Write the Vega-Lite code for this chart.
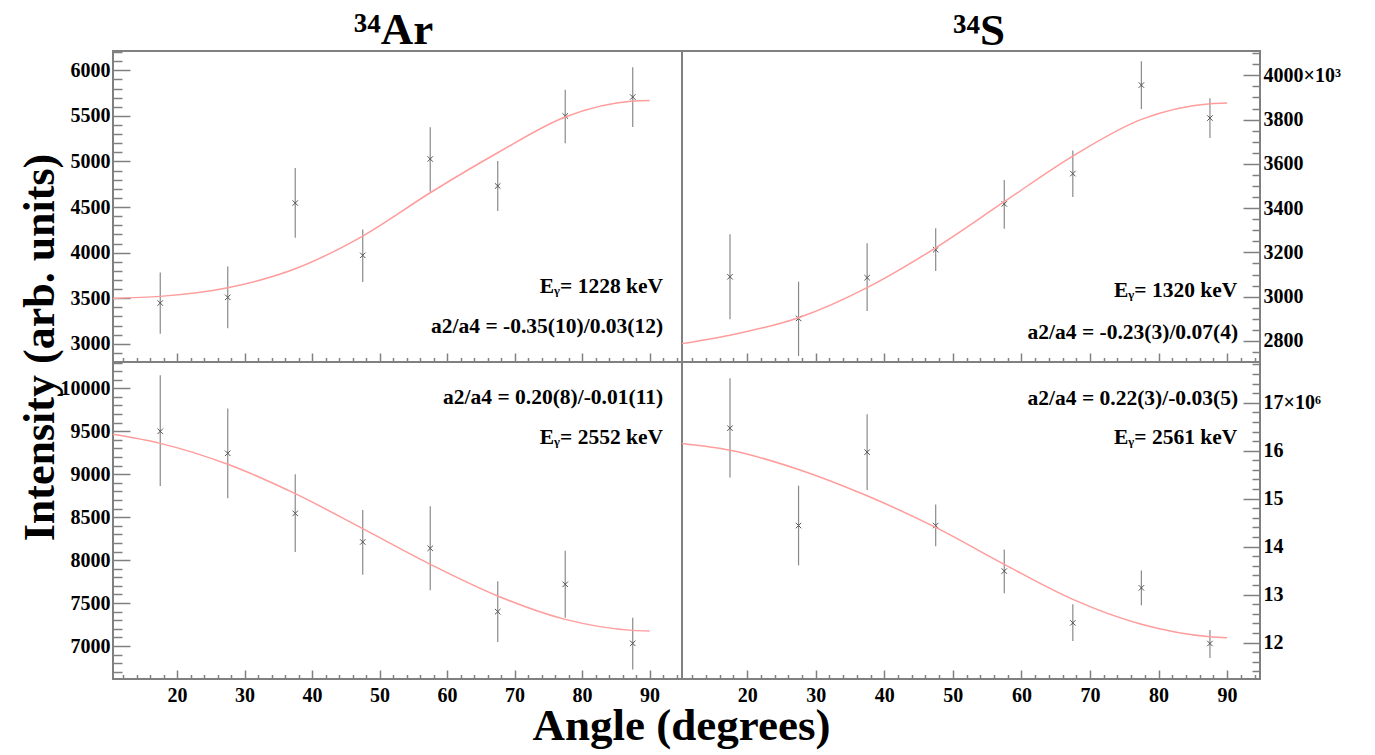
{
  "$schema": "https://vega.github.io/schema/vega-lite/v6.json",
  "background": "white",
  "padding": {"left": 17, "top": 7, "right": 5, "bottom": 5},
  "columns": 2,
  "spacing": 0,
  "bounds": "flush",
  "align": "each",
  "config": {
    "view": {"stroke": "#808080", "strokeWidth": 2},
    "font": "Liberation Serif",
    "axis": {
      "grid": false,
      "domain": false,
      "tickColor": "#808080",
      "tickWidth": 1.5,
      "tickCount": 500,
      "labelFont": "Liberation Serif",
      "labelFontWeight": "bold",
      "labelFontSize": 20,
      "labelColor": "black",
      "labelOverlap": false,
      "labelFlush": false,
      "labelBound": false,
      "titleFont": "Liberation Serif",
      "titleFontWeight": "bold",
      "titleColor": "black"
    },
    "title": {"frame": "group"}
  },
  "datasets": {
    "tl_pts": [
      {"angle": 17.5, "value": 3447, "lo": 3110, "hi": 3783},
      {"angle": 27.5, "value": 3509, "lo": 3169, "hi": 3849},
      {"angle": 37.5, "value": 4544, "lo": 4163, "hi": 4928},
      {"angle": 47.5, "value": 3970, "lo": 3677, "hi": 4255},
      {"angle": 57.5, "value": 5027, "lo": 4668, "hi": 5375},
      {"angle": 67.5, "value": 4731, "lo": 4456, "hi": 5005},
      {"angle": 77.5, "value": 5499, "lo": 5199, "hi": 5787},
      {"angle": 87.5, "value": 5707, "lo": 5378, "hi": 6033}
    ],
    "tl_fit": [
      {"angle": 10.5, "value": 3498}, {"angle": 17.5, "value": 3520}, {"angle": 27.5, "value": 3615},
      {"angle": 37.5, "value": 3823}, {"angle": 47.5, "value": 4182}, {"angle": 57.5, "value": 4657},
      {"angle": 67.5, "value": 5096}, {"angle": 77.5, "value": 5488}, {"angle": 87.5, "value": 5663},
      {"angle": 90, "value": 5670}
    ],
    "tr_pts": [
      {"angle": 17.5, "value": 3090, "lo": 2898, "hi": 3282},
      {"angle": 27.5, "value": 2902, "lo": 2732, "hi": 3068},
      {"angle": 37.5, "value": 3086, "lo": 2935, "hi": 3241},
      {"angle": 47.5, "value": 3212, "lo": 3116, "hi": 3309},
      {"angle": 57.5, "value": 3419, "lo": 3307, "hi": 3527},
      {"angle": 67.5, "value": 3556, "lo": 3450, "hi": 3661},
      {"angle": 77.5, "value": 3956, "lo": 3848, "hi": 4064},
      {"angle": 87.5, "value": 3807, "lo": 3717, "hi": 3896}
    ],
    "tr_fit": [
      {"angle": 10.5, "value": 2788}, {"angle": 17.5, "value": 2826}, {"angle": 27.5, "value": 2905},
      {"angle": 37.5, "value": 3041}, {"angle": 47.5, "value": 3221}, {"angle": 57.5, "value": 3429},
      {"angle": 67.5, "value": 3635}, {"angle": 77.5, "value": 3801}, {"angle": 87.5, "value": 3872},
      {"angle": 90, "value": 3875}
    ],
    "bl_pts": [
      {"angle": 17.5, "value": 9499, "lo": 8862, "hi": 10151},
      {"angle": 27.5, "value": 9243, "lo": 8719, "hi": 9766},
      {"angle": 37.5, "value": 8544, "lo": 8094, "hi": 8998},
      {"angle": 47.5, "value": 8211, "lo": 7830, "hi": 8583},
      {"angle": 57.5, "value": 8137, "lo": 7648, "hi": 8626},
      {"angle": 67.5, "value": 7400, "lo": 7047, "hi": 7753},
      {"angle": 77.5, "value": 7718, "lo": 7330, "hi": 8110},
      {"angle": 87.5, "value": 7031, "lo": 6728, "hi": 7330}
    ],
    "bl_fit": [
      {"angle": 10.5, "value": 9464}, {"angle": 17.5, "value": 9359}, {"angle": 27.5, "value": 9115},
      {"angle": 37.5, "value": 8773}, {"angle": 47.5, "value": 8366}, {"angle": 57.5, "value": 7951},
      {"angle": 67.5, "value": 7582}, {"angle": 77.5, "value": 7310}, {"angle": 87.5, "value": 7182},
      {"angle": 90, "value": 7175}
    ],
    "br_pts": [
      {"angle": 17.5, "value": 16.47, "lo": 15.44, "hi": 17.51},
      {"angle": 27.5, "value": 14.44, "lo": 13.61, "hi": 15.27},
      {"angle": 37.5, "value": 15.97, "lo": 15.18, "hi": 16.76},
      {"angle": 47.5, "value": 14.44, "lo": 14.01, "hi": 14.88},
      {"angle": 57.5, "value": 13.49, "lo": 13.03, "hi": 13.94},
      {"angle": 67.5, "value": 12.41, "lo": 12.03, "hi": 12.80},
      {"angle": 77.5, "value": 13.14, "lo": 12.78, "hi": 13.50},
      {"angle": 87.5, "value": 11.98, "lo": 11.68, "hi": 12.26}
    ],
    "br_fit": [
      {"angle": 10.5, "value": 16.15}, {"angle": 17.5, "value": 16.01}, {"angle": 27.5, "value": 15.61},
      {"angle": 37.5, "value": 15.06}, {"angle": 47.5, "value": 14.40}, {"angle": 57.5, "value": 13.63},
      {"angle": 67.5, "value": 12.90}, {"angle": 77.5, "value": 12.38}, {"angle": 87.5, "value": 12.12},
      {"angle": 90, "value": 12.10}
    ]
  },
  "concat": [
    {
      "width": 569, "height": 311,
      "title": {"text": "³⁴Ar", "font": "Liberation Serif", "fontWeight": "bold", "fontSize": 45, "anchor": "middle", "baseline": "alphabetic", "offset": -47, "dx": -4, "color": "black", "frame": "group"},
      "layer": [
        {"data": {"name": "tl_pts"}, "mark": {"type": "rule", "color": "#8a8a8a", "strokeWidth": 1.2},
         "encoding": {
           "x": {"field": "angle", "type": "quantitative", "scale": {"domain": [10.5, 94.8], "nice": false, "zero": false},
                 "axis": {"values": [12,14,16,18,20,22,24,26,28,30,32,34,36,38,40,42,44,46,48,50,52,54,56,58,60,62,64,66,68,70,72,74,76,78,80,82,84,86,88,90,92,94],
                          "labels": false, "title": null, "tickCount": 500,
                          "tickSize": {"condition": {"test": "datum.value % 10 === 0", "value": -9}, "value": -4.5}}},
           "y": {"field": "lo", "type": "quantitative", "scale": {"domain": [2800, 6212], "nice": false, "zero": false},
                 "axis": {"orient": "left", "format": "d", "tickCount": 500,
                          "values": [2800,2900,3000,3100,3200,3300,3400,3500,3600,3700,3800,3900,4000,4100,4200,4300,4400,4500,4600,4700,4800,4900,5000,5100,5200,5300,5400,5500,5600,5700,5800,5900,6000,6100,6200],
                          "labelExpr": "datum.value % 500 === 0 ? datum.label : ''",
                          "tickSize": {"condition": {"test": "datum.value % 500 === 0", "value": -17}, "value": -9},
                          "labelPadding": 20,
                          "title": "Intensity (arb. units)", "titleFontSize": 44, "titleX": -60, "titleY": 296,
                          "titleBaseline": "alphabetic", "titleAlign": "center", "titleAngle": -90}},
           "y2": {"field": "hi"}
         }},
        {"data": {"name": "tl_pts"}, "mark": {"type": "point", "shape": "M-1,-1L1,1M-1,1L1,-1", "filled": false, "stroke": "#555555", "strokeWidth": 1, "size": 30, "opacity": 1},
         "encoding": {"x": {"field": "angle", "type": "quantitative"}, "y": {"field": "value", "type": "quantitative"}}},
        {"data": {"name": "tl_fit"}, "mark": {"type": "line", "color": "#ff9c9c", "strokeWidth": 1.5, "interpolate": "monotone"},
         "encoding": {"x": {"field": "angle", "type": "quantitative"}, "y": {"field": "value", "type": "quantitative"}}},
        {"data": {"values": [{}]}, "mark": {"type": "text", "text": "Eᵧ= 1228 keV", "align": "right", "baseline": "middle", "font": "Liberation Serif", "fontWeight": "bold", "fontSize": 21.5, "color": "black"},
         "encoding": {"x": {"datum": 92, "type": "quantitative"}, "y": {"datum": 3625, "type": "quantitative"}}},
        {"data": {"values": [{}]}, "mark": {"type": "text", "text": "a2/a4 = -0.35(10)/0.03(12)", "align": "right", "baseline": "middle", "font": "Liberation Serif", "fontWeight": "bold", "fontSize": 21.5, "color": "black"},
         "encoding": {"x": {"datum": 92, "type": "quantitative"}, "y": {"datum": 3183, "type": "quantitative"}}}
      ]
    },
    {
      "width": 578, "height": 311,
      "title": {"text": "³⁴S", "font": "Liberation Serif", "fontWeight": "bold", "fontSize": 45, "anchor": "middle", "baseline": "alphabetic", "offset": -47, "dx": 8, "color": "black", "frame": "group"},
      "layer": [
        {"data": {"name": "tr_pts"}, "mark": {"type": "rule", "color": "#8a8a8a", "strokeWidth": 1.2},
         "encoding": {
           "x": {"field": "angle", "type": "quantitative", "scale": {"domain": [10.5, 94.8], "nice": false, "zero": false},
                 "axis": {"values": [12,14,16,18,20,22,24,26,28,30,32,34,36,38,40,42,44,46,48,50,52,54,56,58,60,62,64,66,68,70,72,74,76,78,80,82,84,86,88,90,92,94],
                          "labels": false, "title": null, "tickCount": 500,
                          "tickSize": {"condition": {"test": "datum.value % 10 === 0", "value": -9}, "value": -4.5}}},
           "y": {"field": "lo", "type": "quantitative", "scale": {"domain": [2705, 4110], "nice": false, "zero": false},
                 "axis": {"orient": "right", "format": "d", "tickCount": 500,
                          "values": [2750,2800,2850,2900,2950,3000,3050,3100,3150,3200,3250,3300,3350,3400,3450,3500,3550,3600,3650,3700,3750,3800,3850,3900,3950,4000,4050,4100],
                          "labelExpr": "datum.value === 4000 ? '4000×10³' : (datum.value % 200 === 0 ? datum.label : '')",
                          "tickSize": {"condition": {"test": "datum.value % 200 === 0", "value": -17}, "value": -8},
                          "labelPadding": 20, "title": null}},
           "y2": {"field": "hi"}
         }},
        {"data": {"name": "tr_pts"}, "mark": {"type": "point", "shape": "M-1,-1L1,1M-1,1L1,-1", "filled": false, "stroke": "#555555", "strokeWidth": 1, "size": 30, "opacity": 1},
         "encoding": {"x": {"field": "angle", "type": "quantitative"}, "y": {"field": "value", "type": "quantitative"}}},
        {"data": {"name": "tr_fit"}, "mark": {"type": "line", "color": "#ff9c9c", "strokeWidth": 1.5, "interpolate": "monotone"},
         "encoding": {"x": {"field": "angle", "type": "quantitative"}, "y": {"field": "value", "type": "quantitative"}}},
        {"data": {"values": [{}]}, "mark": {"type": "text", "text": "Eᵧ= 1320 keV", "align": "right", "baseline": "middle", "font": "Liberation Serif", "fontWeight": "bold", "fontSize": 21.5, "color": "black"},
         "encoding": {"x": {"datum": 91.5, "type": "quantitative"}, "y": {"datum": 3026, "type": "quantitative"}}},
        {"data": {"values": [{}]}, "mark": {"type": "text", "text": "a2/a4 = -0.23(3)/0.07(4)", "align": "right", "baseline": "middle", "font": "Liberation Serif", "fontWeight": "bold", "fontSize": 21.5, "color": "black"},
         "encoding": {"x": {"datum": 91.6, "type": "quantitative"}, "y": {"datum": 2837, "type": "quantitative"}}}
      ]
    },
    {
      "width": 569, "height": 317,
      "layer": [
        {"data": {"name": "bl_pts"}, "mark": {"type": "rule", "color": "#8a8a8a", "strokeWidth": 1.2},
         "encoding": {
           "x": {"field": "angle", "type": "quantitative", "scale": {"domain": [10.5, 94.8], "nice": false, "zero": false},
                 "axis": {"values": [12,14,16,18,20,22,24,26,28,30,32,34,36,38,40,42,44,46,48,50,52,54,56,58,60,62,64,66,68,70,72,74,76,78,80,82,84,86,88,90,92,94],
                          "format": "d", "labelExpr": "datum.value % 10 === 0 ? datum.label : ''", "labelPadding": 15, "tickCount": 500,
                          "tickSize": {"condition": {"test": "datum.value % 10 === 0", "value": -9}, "value": -4.5},
                          "title": "Angle (degrees)", "titleFontSize": 45, "titleX": 568, "titleY": 60,
                          "titleBaseline": "alphabetic", "titleAlign": "center"}},
           "y": {"field": "lo", "type": "quantitative", "scale": {"domain": [6616, 10306], "nice": false, "zero": false},
                 "axis": {"orient": "left", "format": "d", "tickCount": 500,
                          "values": [6700,6800,6900,7000,7100,7200,7300,7400,7500,7600,7700,7800,7900,8000,8100,8200,8300,8400,8500,8600,8700,8800,8900,9000,9100,9200,9300,9400,9500,9600,9700,9800,9900,10000,10100,10200,10300],
                          "labelExpr": "datum.value % 500 === 0 ? datum.label : ''",
                          "tickSize": {"condition": {"test": "datum.value % 500 === 0", "value": -17}, "value": -9},
                          "labelPadding": 20, "title": null}},
           "y2": {"field": "hi"}
         }},
        {"data": {"name": "bl_pts"}, "mark": {"type": "point", "shape": "M-1,-1L1,1M-1,1L1,-1", "filled": false, "stroke": "#555555", "strokeWidth": 1, "size": 30, "opacity": 1},
         "encoding": {"x": {"field": "angle", "type": "quantitative"}, "y": {"field": "value", "type": "quantitative"}}},
        {"data": {"name": "bl_fit"}, "mark": {"type": "line", "color": "#ff9c9c", "strokeWidth": 1.5, "interpolate": "monotone"},
         "encoding": {"x": {"field": "angle", "type": "quantitative"}, "y": {"field": "value", "type": "quantitative"}}},
        {"data": {"values": [{}]}, "mark": {"type": "text", "text": "a2/a4 = 0.20(8)/-0.01(11)", "align": "right", "baseline": "middle", "font": "Liberation Serif", "fontWeight": "bold", "fontSize": 21.5, "color": "black"},
         "encoding": {"x": {"datum": 92, "type": "quantitative"}, "y": {"datum": 9890, "type": "quantitative"}}},
        {"data": {"values": [{}]}, "mark": {"type": "text", "text": "Eᵧ= 2552 keV", "align": "right", "baseline": "middle", "font": "Liberation Serif", "fontWeight": "bold", "fontSize": 21.5, "color": "black"},
         "encoding": {"x": {"datum": 92, "type": "quantitative"}, "y": {"datum": 9425, "type": "quantitative"}}}
      ]
    },
    {
      "width": 578, "height": 317,
      "layer": [
        {"data": {"name": "br_pts"}, "mark": {"type": "rule", "color": "#8a8a8a", "strokeWidth": 1.2},
         "encoding": {
           "x": {"field": "angle", "type": "quantitative", "scale": {"domain": [10.5, 94.8], "nice": false, "zero": false},
                 "axis": {"values": [12,14,16,18,20,22,24,26,28,30,32,34,36,38,40,42,44,46,48,50,52,54,56,58,60,62,64,66,68,70,72,74,76,78,80,82,84,86,88,90,92,94],
                          "format": "d", "labelExpr": "datum.value % 10 === 0 ? datum.label : ''", "labelPadding": 15, "tickCount": 500,
                          "tickSize": {"condition": {"test": "datum.value % 10 === 0", "value": -9}, "value": -4.5},
                          "title": null}},
           "y": {"field": "lo", "type": "quantitative", "scale": {"domain": [11.24, 17.85], "nice": false, "zero": false},
                 "axis": {"orient": "right", "tickCount": 500,
                          "values": [11.4,11.6,11.8,12,12.2,12.4,12.6,12.8,13,13.2,13.4,13.6,13.8,14,14.2,14.4,14.6,14.8,15,15.2,15.4,15.6,15.8,16,16.2,16.4,16.6,16.8,17,17.2,17.4,17.6,17.8],
                          "labelExpr": "abs(datum.value - round(datum.value)) < 0.001 ? (round(datum.value) === 17 ? '17×10⁶' : '' + round(datum.value)) : ''",
                          "tickSize": {"condition": {"test": "abs(datum.value - round(datum.value)) < 0.001", "value": -17}, "value": -8},
                          "labelPadding": 20, "title": null}},
           "y2": {"field": "hi"}
         }},
        {"data": {"name": "br_pts"}, "mark": {"type": "point", "shape": "M-1,-1L1,1M-1,1L1,-1", "filled": false, "stroke": "#555555", "strokeWidth": 1, "size": 30, "opacity": 1},
         "encoding": {"x": {"field": "angle", "type": "quantitative"}, "y": {"field": "value", "type": "quantitative"}}},
        {"data": {"name": "br_fit"}, "mark": {"type": "line", "color": "#ff9c9c", "strokeWidth": 1.5, "interpolate": "monotone"},
         "encoding": {"x": {"field": "angle", "type": "quantitative"}, "y": {"field": "value", "type": "quantitative"}}},
        {"data": {"values": [{}]}, "mark": {"type": "text", "text": "a2/a4 = 0.22(3)/-0.03(5)", "align": "right", "baseline": "middle", "font": "Liberation Serif", "fontWeight": "bold", "fontSize": 21.5, "color": "black"},
         "encoding": {"x": {"datum": 91.6, "type": "quantitative"}, "y": {"datum": 17.07, "type": "quantitative"}}},
        {"data": {"values": [{}]}, "mark": {"type": "text", "text": "Eᵧ= 2561 keV", "align": "right", "baseline": "middle", "font": "Liberation Serif", "fontWeight": "bold", "fontSize": 21.5, "color": "black"},
         "encoding": {"x": {"datum": 91.5, "type": "quantitative"}, "y": {"datum": 16.27, "type": "quantitative"}}}
      ]
    }
  ]
}
